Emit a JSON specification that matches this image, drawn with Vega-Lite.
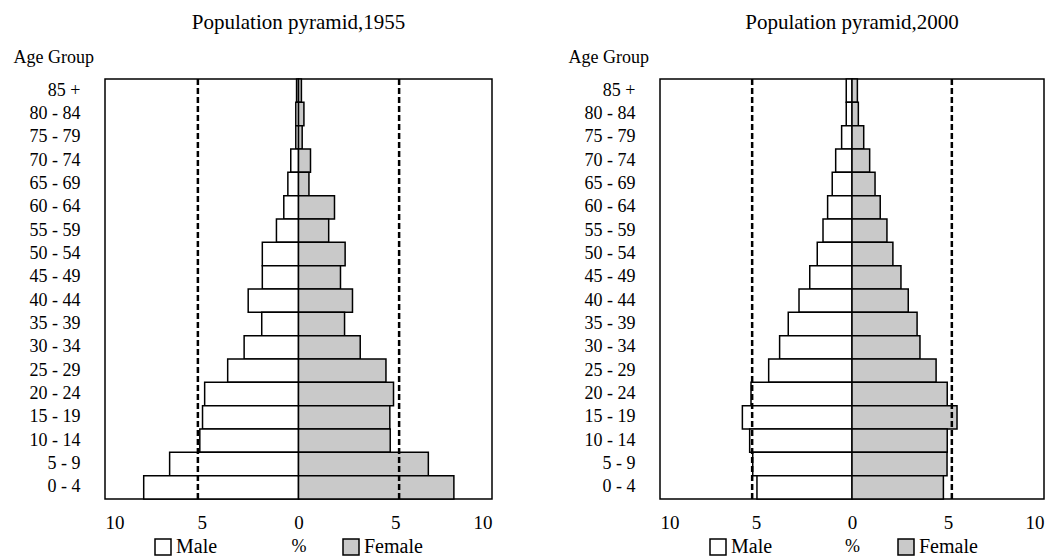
{
  "$schema": "https://vega.github.io/schema/vega-lite/v6.json",
  "background": "white",
  "padding": {"left": 12, "top": 11, "right": 5, "bottom": 0},
  "config": {
    "font": "Liberation Serif",
    "view": {"stroke": "black", "strokeWidth": 1.5},
    "axis": {"labelColor": "black", "titleColor": "black", "grid": false, "ticks": false, "domain": false, "labelFont": "Liberation Serif", "titleFont": "Liberation Serif"},
    "legend": {"labelColor": "black", "labelFont": "Liberation Serif"},
    "title": {"color": "black", "font": "Liberation Serif"}
  },
  "datasets": {
    "pop": [
      {"year": 1955, "age": "85 +", "sex": "Male", "pct": 0.1},
      {"year": 1955, "age": "80 - 84", "sex": "Male", "pct": 0.14},
      {"year": 1955, "age": "75 - 79", "sex": "Male", "pct": 0.14},
      {"year": 1955, "age": "70 - 74", "sex": "Male", "pct": 0.4},
      {"year": 1955, "age": "65 - 69", "sex": "Male", "pct": 0.55},
      {"year": 1955, "age": "60 - 64", "sex": "Male", "pct": 0.76},
      {"year": 1955, "age": "55 - 59", "sex": "Male", "pct": 1.14},
      {"year": 1955, "age": "50 - 54", "sex": "Male", "pct": 1.87},
      {"year": 1955, "age": "45 - 49", "sex": "Male", "pct": 1.87},
      {"year": 1955, "age": "40 - 44", "sex": "Male", "pct": 2.6},
      {"year": 1955, "age": "35 - 39", "sex": "Male", "pct": 1.9},
      {"year": 1955, "age": "30 - 34", "sex": "Male", "pct": 2.81},
      {"year": 1955, "age": "25 - 29", "sex": "Male", "pct": 3.66},
      {"year": 1955, "age": "20 - 24", "sex": "Male", "pct": 4.85},
      {"year": 1955, "age": "15 - 19", "sex": "Male", "pct": 4.96},
      {"year": 1955, "age": "10 - 14", "sex": "Male", "pct": 5.1},
      {"year": 1955, "age": "5 - 9", "sex": "Male", "pct": 6.66},
      {"year": 1955, "age": "0 - 4", "sex": "Male", "pct": 8.0},
      {"year": 1955, "age": "85 +", "sex": "Female", "pct": 0.15},
      {"year": 1955, "age": "80 - 84", "sex": "Female", "pct": 0.28},
      {"year": 1955, "age": "75 - 79", "sex": "Female", "pct": 0.19},
      {"year": 1955, "age": "70 - 74", "sex": "Female", "pct": 0.62},
      {"year": 1955, "age": "65 - 69", "sex": "Female", "pct": 0.54},
      {"year": 1955, "age": "60 - 64", "sex": "Female", "pct": 1.86},
      {"year": 1955, "age": "55 - 59", "sex": "Female", "pct": 1.56},
      {"year": 1955, "age": "50 - 54", "sex": "Female", "pct": 2.41},
      {"year": 1955, "age": "45 - 49", "sex": "Female", "pct": 2.17},
      {"year": 1955, "age": "40 - 44", "sex": "Female", "pct": 2.79},
      {"year": 1955, "age": "35 - 39", "sex": "Female", "pct": 2.38},
      {"year": 1955, "age": "30 - 34", "sex": "Female", "pct": 3.19},
      {"year": 1955, "age": "25 - 29", "sex": "Female", "pct": 4.52},
      {"year": 1955, "age": "20 - 24", "sex": "Female", "pct": 4.91},
      {"year": 1955, "age": "15 - 19", "sex": "Female", "pct": 4.72},
      {"year": 1955, "age": "10 - 14", "sex": "Female", "pct": 4.74},
      {"year": 1955, "age": "5 - 9", "sex": "Female", "pct": 6.71},
      {"year": 1955, "age": "0 - 4", "sex": "Female", "pct": 8.03},
      {"year": 2000, "age": "85 +", "sex": "Male", "pct": 0.3},
      {"year": 2000, "age": "80 - 84", "sex": "Male", "pct": 0.3},
      {"year": 2000, "age": "75 - 79", "sex": "Male", "pct": 0.54},
      {"year": 2000, "age": "70 - 74", "sex": "Male", "pct": 0.85},
      {"year": 2000, "age": "65 - 69", "sex": "Male", "pct": 1.03},
      {"year": 2000, "age": "60 - 64", "sex": "Male", "pct": 1.27},
      {"year": 2000, "age": "55 - 59", "sex": "Male", "pct": 1.51},
      {"year": 2000, "age": "50 - 54", "sex": "Male", "pct": 1.81},
      {"year": 2000, "age": "45 - 49", "sex": "Male", "pct": 2.2},
      {"year": 2000, "age": "40 - 44", "sex": "Male", "pct": 2.76},
      {"year": 2000, "age": "35 - 39", "sex": "Male", "pct": 3.32},
      {"year": 2000, "age": "30 - 34", "sex": "Male", "pct": 3.77},
      {"year": 2000, "age": "25 - 29", "sex": "Male", "pct": 4.34},
      {"year": 2000, "age": "20 - 24", "sex": "Male", "pct": 5.26},
      {"year": 2000, "age": "15 - 19", "sex": "Male", "pct": 5.71},
      {"year": 2000, "age": "10 - 14", "sex": "Male", "pct": 5.33},
      {"year": 2000, "age": "5 - 9", "sex": "Male", "pct": 5.17},
      {"year": 2000, "age": "0 - 4", "sex": "Male", "pct": 4.95},
      {"year": 2000, "age": "85 +", "sex": "Female", "pct": 0.28},
      {"year": 2000, "age": "80 - 84", "sex": "Female", "pct": 0.33},
      {"year": 2000, "age": "75 - 79", "sex": "Female", "pct": 0.61},
      {"year": 2000, "age": "70 - 74", "sex": "Female", "pct": 0.92},
      {"year": 2000, "age": "65 - 69", "sex": "Female", "pct": 1.2},
      {"year": 2000, "age": "60 - 64", "sex": "Female", "pct": 1.47},
      {"year": 2000, "age": "55 - 59", "sex": "Female", "pct": 1.82},
      {"year": 2000, "age": "50 - 54", "sex": "Female", "pct": 2.13},
      {"year": 2000, "age": "45 - 49", "sex": "Female", "pct": 2.55},
      {"year": 2000, "age": "40 - 44", "sex": "Female", "pct": 2.93},
      {"year": 2000, "age": "35 - 39", "sex": "Female", "pct": 3.39},
      {"year": 2000, "age": "30 - 34", "sex": "Female", "pct": 3.54},
      {"year": 2000, "age": "25 - 29", "sex": "Female", "pct": 4.38},
      {"year": 2000, "age": "20 - 24", "sex": "Female", "pct": 4.96},
      {"year": 2000, "age": "15 - 19", "sex": "Female", "pct": 5.47},
      {"year": 2000, "age": "10 - 14", "sex": "Female", "pct": 4.96},
      {"year": 2000, "age": "5 - 9", "sex": "Female", "pct": 4.95},
      {"year": 2000, "age": "0 - 4", "sex": "Female", "pct": 4.76}
    ],
    "refs": [{"v": -5.2}, {"v": 5.2}]
  },
  "spacing": 74,
  "resolve": {"scale": {"fill": "independent"}, "legend": {"fill": "independent"}},
  "hconcat": [
    {
      "width": 387,
      "height": 420,
      "title": {"text": "Population pyramid,1955", "fontSize": 21, "fontWeight": "normal", "frame": "group", "anchor": "middle", "offset": 15},
      "layer": [
        {
          "data": {"name": "pop"},
          "transform": [
            {"filter": "datum.year == 1955"},
            {"calculate": "datum.sex == 'Male' ? -datum.pct : datum.pct", "as": "signed"}
          ],
          "mark": {"type": "bar", "stroke": "black", "strokeWidth": 1.5},
          "encoding": {
            "y": {
              "field": "age", "type": "nominal",
              "sort": ["85 +", "80 - 84", "75 - 79", "70 - 74", "65 - 69", "60 - 64", "55 - 59", "50 - 54", "45 - 49", "40 - 44", "35 - 39", "30 - 34", "25 - 29", "20 - 24", "15 - 19", "10 - 14", "5 - 9", "0 - 4"],
              "scale": {"paddingInner": 0, "paddingOuter": 0},
              "axis": {"title": "Age Group", "titleAngle": 0, "titleAlign": "left", "titleBaseline": "alphabetic", "titleX": -92, "titleY": -17, "titleFontSize": 18, "titleFontWeight": "normal", "labelFontSize": 18, "labelPadding": 25}
            },
            "x": {
              "field": "signed", "type": "quantitative",
              "scale": {"domain": [-10, 10], "nice": false},
              "axis": {"values": [-10, -5, 0, 5, 10], "labelExpr": "abs(datum.value)", "labelFontSize": 19, "labelPadding": 14, "title": "%", "titleFontSize": 18, "titleFontWeight": "normal", "titlePadding": 5}
            },
            "fill": {
              "field": "sex", "type": "nominal",
              "scale": {"domain": ["Male", "Female"], "range": ["white", "#c9c9c9"]},
              "legend": {"orient": "none", "legendX": 48, "legendY": 458, "direction": "horizontal", "title": null, "symbolType": "square", "symbolSize": 256, "symbolStrokeColor": "black", "symbolStrokeWidth": 1.5, "labelFontSize": 20, "labelOffset": 3, "columnPadding": 122}
            }
          }
        },
        {
          "data": {"name": "refs"},
          "mark": {"type": "rule", "color": "black", "strokeWidth": 2.5, "strokeDash": [6, 3]},
          "encoding": {"x": {"field": "v", "type": "quantitative"}}
        }
      ]
    },
    {
      "width": 384,
      "height": 420,
      "title": {"text": "Population pyramid,2000", "fontSize": 21, "fontWeight": "normal", "frame": "group", "anchor": "middle", "offset": 15},
      "layer": [
        {
          "data": {"name": "pop"},
          "transform": [
            {"filter": "datum.year == 2000"},
            {"calculate": "datum.sex == 'Male' ? -datum.pct : datum.pct", "as": "signed"}
          ],
          "mark": {"type": "bar", "stroke": "black", "strokeWidth": 1.5},
          "encoding": {
            "y": {
              "field": "age", "type": "nominal",
              "sort": ["85 +", "80 - 84", "75 - 79", "70 - 74", "65 - 69", "60 - 64", "55 - 59", "50 - 54", "45 - 49", "40 - 44", "35 - 39", "30 - 34", "25 - 29", "20 - 24", "15 - 19", "10 - 14", "5 - 9", "0 - 4"],
              "scale": {"paddingInner": 0, "paddingOuter": 0},
              "axis": {"title": "Age Group", "titleAngle": 0, "titleAlign": "left", "titleBaseline": "alphabetic", "titleX": -92, "titleY": -17, "titleFontSize": 18, "titleFontWeight": "normal", "labelFontSize": 18, "labelPadding": 25}
            },
            "x": {
              "field": "signed", "type": "quantitative",
              "scale": {"domain": [-10, 10], "nice": false},
              "axis": {"values": [-10, -5, 0, 5, 10], "labelExpr": "abs(datum.value)", "labelFontSize": 19, "labelPadding": 14, "title": "%", "titleFontSize": 18, "titleFontWeight": "normal", "titlePadding": 5}
            },
            "fill": {
              "field": "sex", "type": "nominal",
              "scale": {"domain": ["Male", "Female"], "range": ["white", "#c9c9c9"]},
              "legend": {"orient": "none", "legendX": 48, "legendY": 458, "direction": "horizontal", "title": null, "symbolType": "square", "symbolSize": 256, "symbolStrokeColor": "black", "symbolStrokeWidth": 1.5, "labelFontSize": 20, "labelOffset": 3, "columnPadding": 122}
            }
          }
        },
        {
          "data": {"name": "refs"},
          "mark": {"type": "rule", "color": "black", "strokeWidth": 2.5, "strokeDash": [6, 3]},
          "encoding": {"x": {"field": "v", "type": "quantitative"}}
        }
      ]
    }
  ]
}
